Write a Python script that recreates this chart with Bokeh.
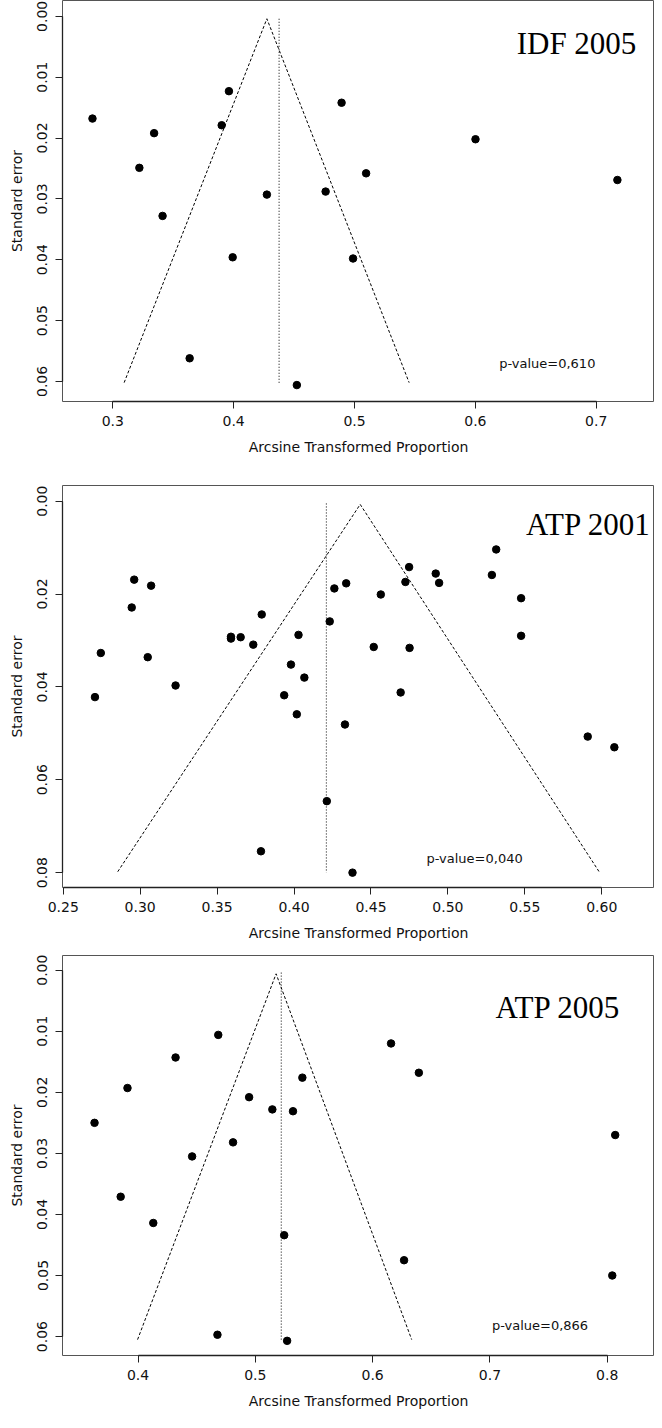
from bokeh.plotting import figure
from bokeh.layouts import column
from bokeh.models import Range1d, FixedTicker, PrintfTickFormatter, Label
from bokeh.embed import file_html
from bokeh.resources import INLINE

# ---------------- IDF 2005 ----------------
idf_x = [0.2832, 0.3961, 0.4893, 0.3342, 0.3901, 0.6001, 0.3220, 0.5096,
         0.7175, 0.4275, 0.4761, 0.3412, 0.3992, 0.4988, 0.3636, 0.4523]
idf_se = [0.0168, 0.0123, 0.0142, 0.0192, 0.0179, 0.0202, 0.0249, 0.0258,
          0.0269, 0.0293, 0.0288, 0.0328, 0.0396, 0.0398, 0.0562, 0.0606]
idf_funnel_x = [0.3094, 0.4275, 0.5452]
idf_funnel_se = [0.0602, 0.0004, 0.0602]
idf_pooled = [0.4376, 0.4376]
idf_pooled_se = [0.0004, 0.0605]
idf_xticks = [0.3, 0.4, 0.5, 0.6, 0.7]
idf_yticks = [0.00, 0.01, 0.02, 0.03, 0.04, 0.05, 0.06]

# ---------------- ATP 2001 ----------------
atp01_x = [0.5314, 0.4748, 0.4921, 0.5286, 0.2961, 0.3071, 0.4339, 0.4724,
           0.4943, 0.4262, 0.4564, 0.5476, 0.2945, 0.3790, 0.4232, 0.4029,
           0.5476, 0.3590, 0.3590, 0.3653, 0.3735, 0.4518, 0.4751, 0.2744,
           0.3049, 0.3980, 0.4067, 0.3230, 0.4693, 0.3936, 0.2706, 0.4018,
           0.4331, 0.5909, 0.6082, 0.4213, 0.3785, 0.4380]
atp01_se = [0.0104, 0.0142, 0.0156, 0.0159, 0.0169, 0.0182, 0.0177, 0.0174,
            0.0176, 0.0188, 0.0201, 0.0209, 0.0229, 0.0244, 0.0259, 0.0288,
            0.0290, 0.0292, 0.0296, 0.0293, 0.0309, 0.0314, 0.0316, 0.0327,
            0.0336, 0.0352, 0.0380, 0.0397, 0.0412, 0.0418, 0.0422, 0.0459,
            0.0481, 0.0507, 0.0530, 0.0646, 0.0754, 0.0800]
atp01_funnel_x = [0.2854, 0.4430, 0.5983]
atp01_funnel_se = [0.0798, 0.0007, 0.0798]
atp01_pooled = [0.4210, 0.4210]
atp01_pooled_se = [0.0005, 0.0800]
atp01_xticks = [0.25, 0.30, 0.35, 0.40, 0.45, 0.50, 0.55, 0.60]
atp01_yticks = [0.00, 0.02, 0.04, 0.06, 0.08]

# ---------------- ATP 2005 ----------------
atp05_x = [0.4684, 0.6157, 0.4320, 0.6394, 0.5401, 0.3910, 0.4947, 0.5145,
           0.5321, 0.3629, 0.8068, 0.4810, 0.4461, 0.3852, 0.4130, 0.5246,
           0.6268, 0.8043, 0.4677, 0.5271]
atp05_se = [0.0106, 0.0120, 0.0143, 0.0168, 0.0176, 0.0193, 0.0208, 0.0228,
            0.0231, 0.0250, 0.0270, 0.0282, 0.0305, 0.0371, 0.0414, 0.0434,
            0.0475, 0.0500, 0.0597, 0.0607]
atp05_funnel_x = [0.3996, 0.5177, 0.6333]
atp05_funnel_se = [0.0605, 0.0006, 0.0605]
atp05_pooled = [0.5221, 0.5221]
atp05_pooled_se = [0.0004, 0.0608]
atp05_xticks = [0.4, 0.5, 0.6, 0.7, 0.8]
atp05_yticks = [0.00, 0.01, 0.02, 0.03, 0.04, 0.05, 0.06]

SANS = "DejaVu Sans"
SERIF = "Liberation Serif"


def panel(x, se, fx, fse, px, pse, xr, yr, xticks, yticks, xfmt,
          name, name_pos, pval, pval_pos, height, top, bottom):
    p = figure(width=654, height=height,
               x_range=Range1d(xr[0], xr[1]),
               y_range=Range1d(yr[1], yr[0]),
               output_backend="svg", toolbar_location=None,
               min_border_left=62, min_border_right=0,
               min_border_top=top, min_border_bottom=bottom)
    p.background_fill_color = "white"
    p.border_fill_color = "white"
    p.outline_line_color = "#555555"
    p.outline_line_width = 1
    p.xgrid.visible = False
    p.ygrid.visible = False

    p.line(fx, fse, line_color="black", line_width=1, line_dash="3 2")
    p.line(px, pse, line_color="black", line_width=1, line_dash="1 2")
    p.scatter(x, se, size=7.5, color="black")

    for ax in (p.xaxis[0], p.yaxis[0]):
        ax.axis_line_color = "#222222"
        ax.axis_line_width = 1.3
        ax.major_tick_line_color = "#222222"
        ax.major_tick_out = 7
        ax.major_tick_in = 0
        ax.minor_tick_line_color = None
        ax.major_label_text_font = SANS
        ax.major_label_text_font_size = "14px"
        ax.major_label_text_color = "#111111"
        ax.axis_label_text_font = SANS
        ax.axis_label_text_font_size = "14px"
        ax.axis_label_text_font_style = "normal"
        ax.axis_label_text_color = "#111111"

    p.xaxis.ticker = FixedTicker(ticks=xticks)
    p.xaxis.formatter = PrintfTickFormatter(format=xfmt)
    p.xaxis.bounds = (xticks[0], xticks[-1])
    p.xaxis.major_label_standoff = 7
    p.xaxis.axis_label = "Arcsine Transformed Proportion"
    p.xaxis.axis_label_standoff = 10

    p.yaxis.ticker = FixedTicker(ticks=yticks)
    p.yaxis.formatter = PrintfTickFormatter(format="%.2f")
    p.yaxis.bounds = (yticks[0], yticks[-1])
    p.yaxis.major_label_orientation = "vertical"
    p.yaxis.major_label_standoff = 8
    p.yaxis.axis_label = "Standard error"
    p.yaxis.axis_label_standoff = 10

    p.add_layout(Label(x=name_pos[0], y=name_pos[1], text=name,
                       text_font=SERIF, text_font_size="31px",
                       text_color="black", text_align="right",
                       text_baseline="alphabetic"))
    p.add_layout(Label(x=pval_pos[0], y=pval_pos[1], text=pval,
                       text_font=SANS, text_font_size="13px",
                       text_color="#111111", text_align="left",
                       text_baseline="middle"))
    return p


p1 = panel(idf_x, idf_se, idf_funnel_x, idf_funnel_se, idf_pooled, idf_pooled_se,
           (0.2584, 0.7482), (-0.0026, 0.0633), idf_xticks, idf_yticks, "%.1f",
           "IDF 2005", (0.7332, 0.00446), "p-value=0,610", (0.6197, 0.0570),
           height=462, top=0, bottom=61)
p2 = panel(atp01_x, atp01_se, atp01_funnel_x, atp01_funnel_se, atp01_pooled, atp01_pooled_se,
           (0.2495, 0.6343), (-0.00337, 0.0832), atp01_xticks, atp01_yticks, "%.2f",
           "ATP 2001", (0.632, 0.0050), "p-value=0,040", (0.4861, 0.0769),
           height=483, top=23, bottom=58)
p3 = panel(atp05_x, atp05_se, atp05_funnel_x, atp05_funnel_se, atp05_pooled, atp05_pooled_se,
           (0.3356, 0.8403), (-0.0024, 0.0631), atp05_xticks, atp05_yticks, "%.1f",
           "ATP 2005", (0.8112, 0.00615), "p-value=0,866", (0.7017, 0.0582),
           height=467, top=10, bottom=57)

layout = column(p1, p2, p3, spacing=0)
open("out.html", "w").write(file_html(layout, INLINE))
